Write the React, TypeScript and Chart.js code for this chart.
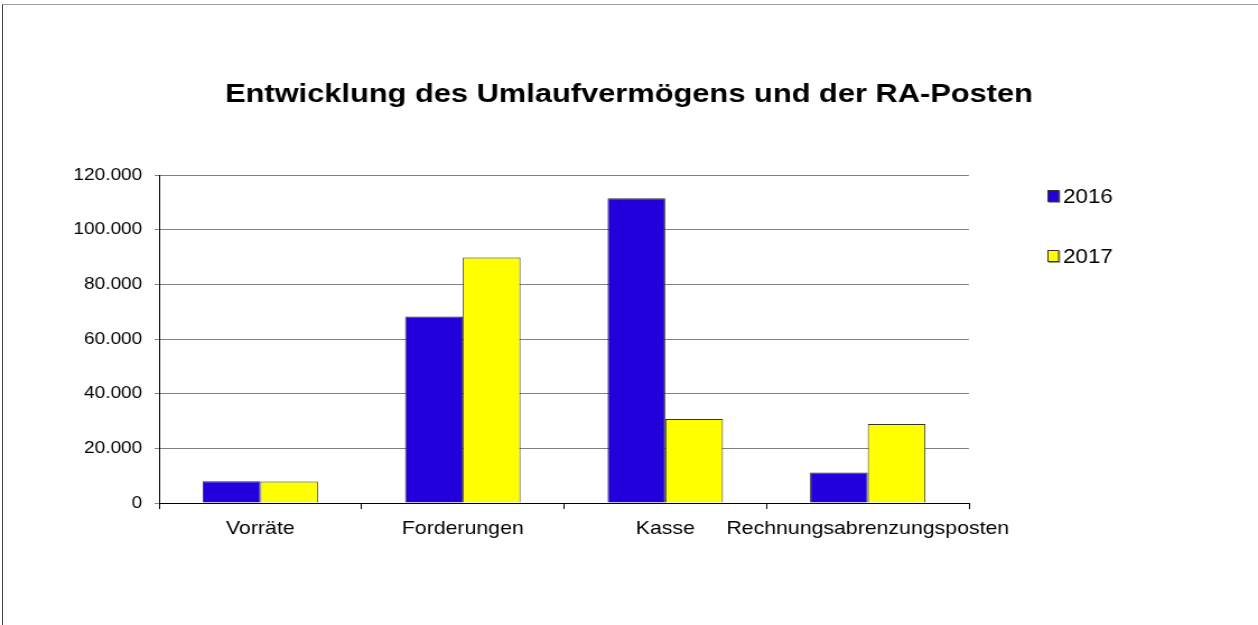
import React, { useEffect, useRef } from "react";
import { Chart, registerables } from "chart.js";

Chart.register(...registerables);

const TITLE = "Entwicklung des Umlaufvermögens und der RA-Posten";
const categories = ["Vorräte", "Forderungen", "Kasse", "Rechnungsabrenzungsposten"];
const seriesLabels = ["2016", "2017"];
const values2016 = [8000, 68200, 111500, 11200];
const values2017 = [7900, 89800, 30700, 28900];
const seriesColors = ["#2100DC", "#FFFF00"];
const yMin = 0;
const yMax = 120000;
const yStep = 20000;

const W = 1258;
const H = 625;
const STRETCH = 1.12;
const IW = Math.round(W / STRETCH);
const FONT = '"Liberation Sans", Arial, Helvetica, sans-serif';

function formatDe(v: number): string {
  return String(Math.round(v)).replace(/\B(?=(\d{3})+(?!\d))/g, ".");
}

const decorPlugin = {
  id: "decor",
  afterDraw(chart: any) {
    const ctx = chart.ctx as CanvasRenderingContext2D;
    // Title
    ctx.save();
    ctx.font = `bold 25px ${FONT}`;
    ctx.fillStyle = "#000";
    ctx.textAlign = "center";
    ctx.textBaseline = "alphabetic";
    ctx.translate(chart.width / 2, 102);
    ctx.scale(1.1, 1);
    ctx.fillText(TITLE, 0, 0);
    ctx.restore();
    // Legend
    ctx.save();
    chart.data.datasets.forEach((ds: any, i: number) => {
      const by = 190 + i * 60;
      const bx = 935;
      ctx.fillStyle = "#9a9a9a";
      ctx.fillRect(bx + 1, by + 1, 10.5, 12);
      ctx.fillStyle = ds.backgroundColor;
      ctx.fillRect(bx, by, 10.5, 12);
      ctx.strokeStyle = "#333";
      ctx.lineWidth = 1;
      ctx.strokeRect(bx + 0.5, by + 0.5, 9.5, 11);
      ctx.fillStyle = "#000";
      ctx.font = `20px ${FONT}`;
      ctx.textAlign = "left";
      ctx.textBaseline = "alphabetic";
      ctx.fillText(ds.label, 949, by + 13);
    });
    ctx.restore();
  },
};

export default function App() {
  const canvasRef = useRef<HTMLCanvasElement | null>(null);

  useEffect(() => {
    if (!canvasRef.current) return;
    Chart.defaults.font.family = FONT;
    Chart.defaults.color = "#000";
    const chart = new Chart(canvasRef.current, {
      type: "bar",
      data: {
        labels: categories,
        datasets: [
          {
            label: seriesLabels[0],
            data: values2016,
            backgroundColor: seriesColors[0],
            borderColor: "#333333",
            borderWidth: 1,
          },
          {
            label: seriesLabels[1],
            data: values2017,
            backgroundColor: seriesColors[1],
            borderColor: "#333333",
            borderWidth: 1,
          },
        ],
      },
      options: {
        animation: false,
        responsive: false,
        devicePixelRatio: 1,
        layout: { padding: { left: 52, right: 258, top: 175, bottom: 82 } },
        datasets: { bar: { categoryPercentage: 0.57, barPercentage: 1 } },
        plugins: {
          legend: { display: false },
          title: { display: false },
          tooltip: { enabled: false },
        },
        scales: {
          x: {
            offset: true,
            grid: {
              display: true,
              offset: true,
              drawOnChartArea: false,
              drawTicks: true,
              tickLength: 6,
              color: "#000",
            },
            border: { display: true, color: "#000", width: 1 },
            ticks: {
              color: "#000",
              font: { size: 19 },
              padding: 8,
              maxRotation: 0,
              minRotation: 0,
              autoSkip: false,
            },
            afterFit: (s: any) => {
              s.height = 40;
            },
          },
          y: {
            min: yMin,
            max: yMax,
            grid: { color: "#808080", tickColor: "#808080", tickLength: 4, drawTicks: true },
            border: { display: true, color: "#000", width: 1 },
            ticks: {
              stepSize: yStep,
              color: "#000",
              font: { size: 17 },
              padding: 11,
              callback: (v: any) => formatDe(Number(v)),
            },
            afterFit: (s: any) => {
              s.width = 90;
            },
          },
        },
      },
      plugins: [decorPlugin],
    } as any);
    return () => chart.destroy();
  }, []);

  return (
    <div
      style={{
        position: "fixed",
        left: 0,
        top: 0,
        width: W,
        height: H,
        overflow: "hidden",
        background: "#fff",
      }}
    >
      <canvas
        ref={canvasRef}
        width={IW}
        height={H}
        style={{ width: W + "px", height: H + "px", display: "block" }}
      />
      <div
        style={{
          position: "absolute",
          left: 2,
          top: 4,
          width: W,
          height: H,
          borderTop: "1px solid #a0a0a0",
          borderLeft: "1px solid #404040",
          pointerEvents: "none",
        }}
      />
    </div>
  );
}
